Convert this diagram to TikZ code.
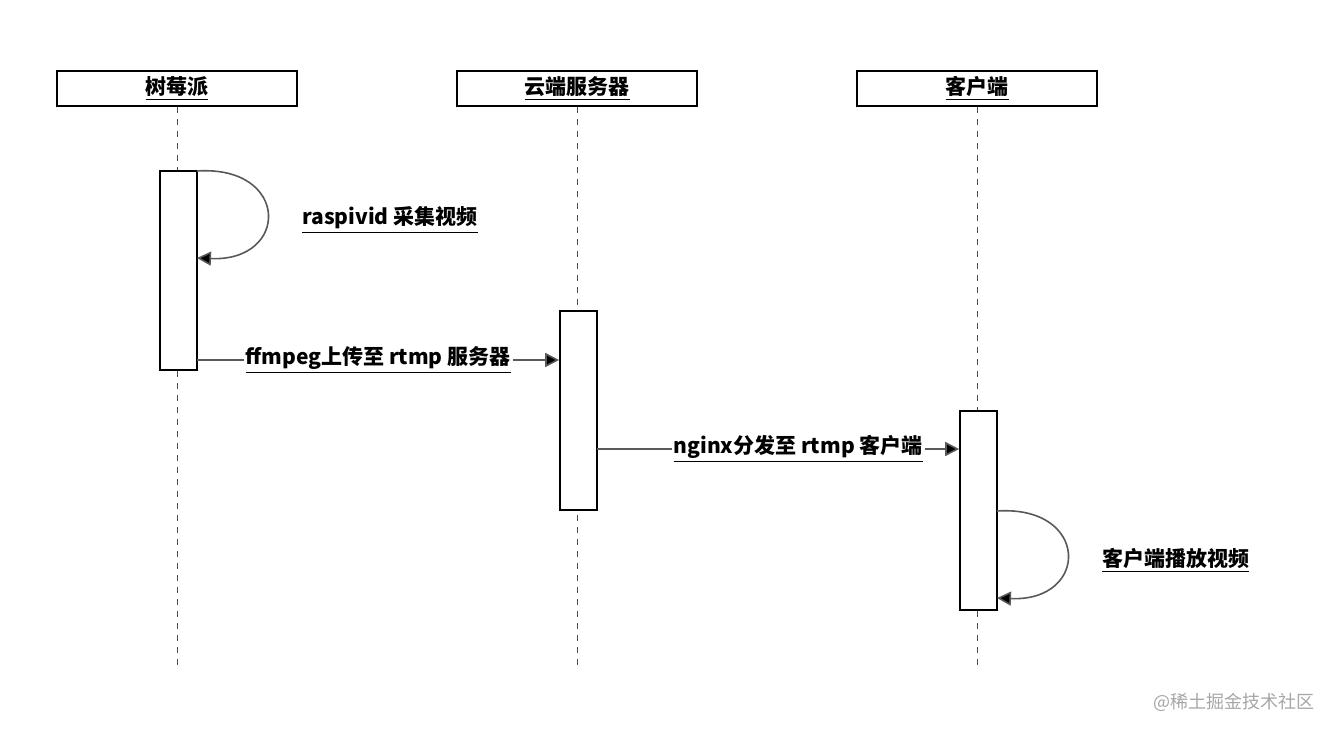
\documentclass[tikz,border=0pt]{standalone}
\usepackage{fontspec}
\setmainfont{Noto Sans CJK SC}
\usetikzlibrary{arrows.meta}
\begin{document}
\begin{tikzpicture}[x=0.5pt,y=-0.5pt,
  hd/.style={draw,thick,minimum width=120pt,minimum height=17.5pt,inner sep=0,font=\fontsize{10.5}{12}\selectfont\bfseries},
  act/.style={draw,thick,fill=white,minimum width=18.5pt,minimum height=99.5pt,inner sep=0},
  life/.style={dashed,gray!60!black},
  msg/.style={thick,draw=gray!70!black,-{Triangle[length=7pt,width=7pt,fill=black]}},
  lbl/.style={font=\fontsize{10.5}{12}\selectfont\bfseries,fill=white,inner sep=1pt}]
\useasboundingbox (0,0) rectangle (1340,734);
\node[hd] (h1) at (177,88.5) {\underline{树莓派}};
\node[hd] (h2) at (577,88.5) {\underline{云端服务器}};
\node[hd] (h3) at (977,88.5) {\underline{客户端}};
\coordinate (e1) at (177,670);
\coordinate (e2) at (577,670);
\coordinate (e3) at (977,670);
\draw[life] (h1.south) -- (e1);
\draw[life] (h2.south) -- (e2);
\draw[life] (h3.south) -- (e3);
\node[act] (a1) at (178.5,270.5) {};
\node[act] (a2) at (578.5,410.5) {};
\node[act] (a3) at (978.5,510.5) {};
% self loop 1
\coordinate (s1) at (197,171);
\coordinate (t1) at (197,258);
\draw[msg] (s1) .. controls (290,165) and (290,262) .. (t1);
\node[lbl,anchor=west] (l1) at (300,220) {\underline{raspivid 采集视频}};
% message 1
\coordinate (m1s) at (197,360);
\coordinate (m1e) at (a2.west|-m1s);
\draw[msg] (m1s) -- (m1e) node[lbl,midway] (l2) {\underline{ffmpeg上传至 rtmp 服务器}};
% message 2
\coordinate (m2s) at (597,449);
\coordinate (m2e) at (a3.west|-m2s);
\draw[msg] (m2s) -- (m2e) node[lbl,midway,xshift=10pt] (l3) {\underline{nginx分发至 rtmp 客户端}};
% self loop 2
\coordinate (s3) at (997,511);
\coordinate (t3) at (997,598);
\draw[msg] (s3) .. controls (1090,505) and (1090,602) .. (t3);
\node[lbl,anchor=west] (l4) at (1100,560) {\underline{客户端播放视频}};
\node[anchor=east,text=gray!70,font=\fontsize{9}{10}\selectfont] (wm) at (1322,702) {@稀土掘金技术社区};
\end{tikzpicture}
\end{document}
